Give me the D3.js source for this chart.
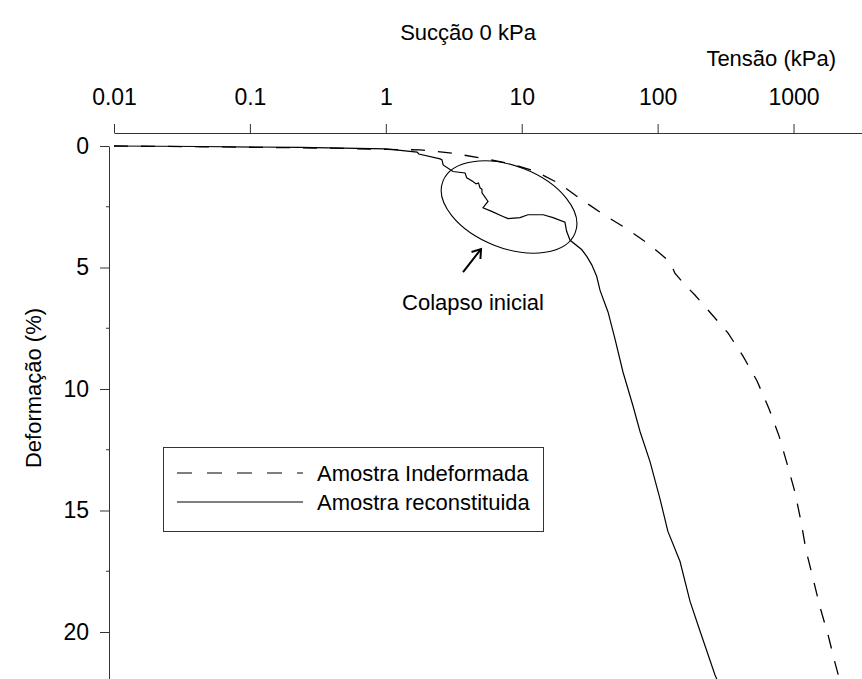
<!DOCTYPE html>
<meta charset="utf-8">
<head>
<style>
  body { margin: 0; background: #fff; }
  text { font-family: "Liberation Sans", Arial, sans-serif; fill: #000; }
</style>
</head>
<body>
<script src="https://cdn.jsdelivr.net/npm/d3@7/dist/d3.min.js"></script>

<svg id="grafico"></svg>

<script>

// tensao (kPa) x deformacao (%)
var indefTensao = [0.01, 0.043, 0.408, 1.0, 1.79, 3.07, 4.93, 8.20, 12.7, 19.1, 26.9, 40.3, 60.6,
  83.6, 101, 123, 134, 159, 188, 239, 330, 425, 539, 661, 782, 896, 1026, 1135, 1236, 1391, 1567, 1795, 2020, 2163];
var indefDeform = [0, 0.03, 0.09, 0.14, 0.16, 0.29, 0.49, 0.72, 1.05, 1.56, 2.17, 2.83, 3.44,
  3.99, 4.36, 4.77, 5.23, 5.72, 6.13, 6.80, 7.70, 8.65, 9.67, 10.82, 11.93, 13.07, 14.26, 15.45, 16.64, 17.79, 18.98, 20.12, 21.27, 21.89];

var reconTensao = [0.01, 0.043, 0.234, 1.0, 1.70, 1.75, 2.51, 2.59, 2.64, 3.12, 3.83, 3.94, 4.38, 4.61, 4.81,
  4.93, 5.10, 5.10, 5.65, 5.19, 6.01, 7.28, 7.93, 9.72, 11.1, 14.4, 17.0, 20.8, 21.4, 22.7, 27.6, 30.1, 32.7,
  35.6, 37.7, 43.2, 48.6, 55.6, 65.9, 74.3, 87.9, 104, 119, 146, 173, 205, 264, 274];
var reconDeform = [0, 0.02, 0.06, 0.12, 0.25, 0.33, 0.53, 0.57, 0.78, 1.05, 1.11, 1.31, 1.46, 1.56, 1.52,
  1.72, 1.78, 1.93, 2.28, 2.54, 2.69, 2.90, 2.99, 2.95, 2.83, 2.83, 2.95, 3.14, 3.51, 3.88, 4.26, 4.54, 4.88,
  5.36, 5.94, 6.84, 7.95, 9.30, 10.70, 11.76, 12.99, 14.51, 15.86, 17.09, 18.73, 19.96, 21.76, 21.97];

var xTicks = [0.01, 0.1, 1, 10, 100, 1000];
var yTicks = [0, 5, 10, 15, 20];
var yMinorTicks = [2.5, 7.5, 12.5, 17.5];

var legenda = ["Amostra Indeformada", "Amostra reconstituida"];

var width = 862,
    height = 679;

var svg = d3.select("#grafico")
    .attr("width", width)
    .attr("height", height);

var x = d3.scaleLog()
    .domain([0.01, 3190])
    .range([114, 862]);

var y = d3.scaleLinear()
    .domain([0, 22])
    .range([146, 146 + 22 * 24.3]);

svg.append("defs").append("clipPath")
    .attr("id", "clip")
    .append("rect")
    .attr("x", 110).attr("y", 140)
    .attr("width", width - 110).attr("height", height - 140);

// eixo superior (log)
var eixoX = svg.append("g")
    .attr("transform", "translate(0,133)")
    .call(d3.axisTop(x)
      .tickValues(xTicks)
      .tickFormat(d3.format(""))
      .tickSize(9)
      .tickSizeOuter(0)
      .tickPadding(19));

// eixo vertical
var eixoY = svg.append("g")
    .attr("transform", "translate(109,0)")
    .call(d3.axisLeft(y)
      .tickValues(yTicks)
      .tickSize(9)
      .tickSizeOuter(0)
      .tickPadding(11));

eixoY.selectAll(".minor")
    .data(yMinorTicks)
  .enter().append("line")
    .attr("class", "minor")
    .attr("x1", -3).attr("x2", 0)
    .attr("y1", function(d){ return y(d); })
    .attr("y2", function(d){ return y(d); })
    .attr("stroke", "#333");

svg.selectAll(".domain, .tick line").attr("stroke", "#333");
svg.selectAll(".tick text")
    .style("font-size", "23px")
    .style("font-family", "'Liberation Sans', Arial, sans-serif")
    .attr("fill", "#000");

// titulos
svg.append("text")
    .attr("x", 468).attr("y", 40)
    .attr("text-anchor", "middle")
    .style("font-size", "22px")
    .text("Sucção 0 kPa");

svg.append("text")
    .attr("x", 836).attr("y", 66)
    .attr("text-anchor", "end")
    .style("font-size", "22px")
    .text("Tensão (kPa)");

svg.append("text")
    .attr("transform", "translate(41,388) rotate(-90)")
    .attr("text-anchor", "middle")
    .style("font-size", "22px")
    .text("Deformação (%)");

// curvas
var linha = d3.line()
    .x(function(d){ return x(d[0]); })
    .y(function(d){ return y(d[1]); });

var curvas = svg.append("g").attr("clip-path", "url(#clip)");

curvas.append("path")
    .datum(d3.zip(indefTensao, indefDeform))
    .attr("d", linha)
    .attr("fill", "none")
    .attr("stroke", "#000")
    .attr("stroke-width", 1.3)
    .attr("stroke-dasharray", "14,13");

curvas.append("path")
    .datum(d3.zip(reconTensao, reconDeform))
    .attr("d", linha)
    .attr("fill", "none")
    .attr("stroke", "#000")
    .attr("stroke-width", 1.2);

// anotacao: colapso inicial
var cx = x(8.07), cy = y(2.51);
svg.append("ellipse")
    .attr("cx", cx).attr("cy", cy)
    .attr("rx", 71).attr("ry", 41)
    .attr("transform", "rotate(21.4," + cx + "," + cy + ")")
    .attr("fill", "none")
    .attr("stroke", "#000")
    .attr("stroke-width", 1.1);

var tip = [x(5.02), y(4.24)], tail = [x(3.70), y(5.19)];
var ang = Math.atan2(tail[1] - tip[1], tail[0] - tip[0]);
var seta = svg.append("g")
    .attr("stroke", "#000")
    .attr("stroke-width", 2)
    .attr("fill", "none");
seta.append("line")
    .attr("x1", tail[0]).attr("y1", tail[1])
    .attr("x2", tip[0]).attr("y2", tip[1]);
seta.append("path")
    .attr("d", "M" + (tip[0] + 10 * Math.cos(ang - 0.6)) + "," + (tip[1] + 10 * Math.sin(ang - 0.6)) +
      "L" + tip[0] + "," + tip[1] +
      "L" + (tip[0] + 10 * Math.cos(ang + 0.6)) + "," + (tip[1] + 10 * Math.sin(ang + 0.6)));

svg.append("text")
    .attr("x", 473).attr("y", 310)
    .attr("text-anchor", "middle")
    .style("font-size", "22px")
    .text("Colapso inicial");

// legenda
var leg = svg.append("g");
leg.append("rect")
    .attr("x", 163.5).attr("y", 447.5)
    .attr("width", 380).attr("height", 84)
    .attr("fill", "#fff")
    .attr("stroke", "#333");

var legY = [473, 502];
leg.selectAll(".item")
    .data(legenda)
  .enter().append("line")
    .attr("x1", 177).attr("x2", 303)
    .attr("y1", function(d, i){ return legY[i]; })
    .attr("y2", function(d, i){ return legY[i]; })
    .attr("stroke", "#000")
    .attr("stroke-width", 1.2)
    .attr("stroke-dasharray", function(d, i){ return i == 0 ? "15,15" : null; });

leg.selectAll(".rotulo")
    .data(legenda)
  .enter().append("text")
    .attr("x", 317)
    .attr("y", function(d, i){ return legY[i] + 8; })
    .style("font-size", "22px")
    .text(function(d){ return d; });

</script>
</body>
